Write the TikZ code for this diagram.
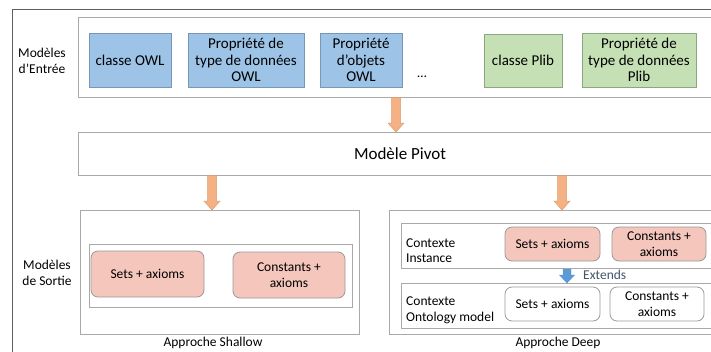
\documentclass[tikz,border=0pt]{standalone}
\usepackage{fontspec}
\setmainfont{Carlito}
\usetikzlibrary{calc}

\definecolor{framedark}{HTML}{5E5E5E}
\definecolor{framelight}{HTML}{A9A9A9}
\definecolor{owlfill}{HTML}{9DC3E6}
\definecolor{owlline}{HTML}{7896B5}
\definecolor{plibfill}{HTML}{C5E0B4}
\definecolor{plibline}{HTML}{8BA77D}
\definecolor{setfill}{HTML}{F4C6BC}
\definecolor{setline}{HTML}{9A9A9A}
\definecolor{arrowfill}{HTML}{F4B183}
\definecolor{arrowline}{HTML}{DE9C6C}
\definecolor{extfill}{HTML}{5B9BD5}
\definecolor{exttext}{HTML}{44546A}

% vertical block arrow: #1 start, #2 tip, #3 half shaft, #4 half head, #5 head length, #6 style
\newcommand{\vblockarrow}[6]{%
  \path[#6] let \p1=(#1), \p2=(#2) in
    (\x1-#3,\y1) -- (\x1+#3,\y1) -- (\x1+#3,\y2+#5) -- (\x1+#4,\y2+#5)
    -- (\x1,\y2) -- (\x1-#4,\y2+#5) -- (\x1-#3,\y2+#5) -- cycle;}

\tikzset{
  txt/.style={font=\fontsize{13.5}{15.5}\selectfont, align=center, inner sep=0pt},
  bigtxt/.style={font=\fontsize{15}{16.5}\selectfont, align=center, inner sep=0pt},
  frame/.style={draw=framelight, line width=0.9pt, fill=white},
  owlbox/.style={draw=owlline, fill=owlfill, line width=0.8pt, bigtxt},
  plibbox/.style={draw=plibline, fill=plibfill, line width=0.8pt, bigtxt},
  setbox/.style={draw=setline, fill=setfill, line width=0.8pt, rounded corners=7pt, txt},
  plainset/.style={draw=setline, fill=white, line width=0.8pt, rounded corners=7pt, txt},
  orangearrow/.style={fill=arrowfill, draw=arrowline, line width=0.5pt},
  bluearrow/.style={fill=extfill, draw=extfill, line width=0.4pt},
  lbl/.style={txt, align=left, anchor=west},
}

\begin{document}
\begin{tikzpicture}[x=1pt, y=-1pt]
\clip (0,0) rectangle (711,351);
\fill[white] (0,0) rectangle (711,351);

% outer frame
\draw[framedark, line width=0.9pt] (12,360) -- (12,9) -- (720,9);

% input models
\draw[frame] (78,17) rectangle (720,97);
\node[txt] (inlbl) at (42,61) {Modèles\\d’Entrée};
\node[owlbox, minimum width=82pt, minimum height=54pt] (cowl) at (130,60) {classe OWL};
\node[owlbox, minimum width=116pt, minimum height=54pt] (dpowl) at (246,60) {Propriété de\\type de données\\OWL};
\node[owlbox, minimum width=82pt, minimum height=54pt] (opowl) at (361,60) {Propriété\\d’objets\\OWL};
\node[txt] (dots) at (422,77) {…};
\node[plibbox, minimum width=78pt, minimum height=53pt] (cplib) at (523,60.5) {classe Plib};
\node[plibbox, minimum width=114pt, minimum height=54pt] (dpplib) at (639,60) {Propriété de\\type de données\\Plib};

% pivot model
\draw[frame] (78,132) rectangle (720,175);
\node[txt, font=\fontsize{17}{20}\selectfont] (pivot) at (400,154) {Modèle Pivot};

% output models: shallow approach
\node[txt] (outlbl) at (47,273) {Modèles\\de Sortie};
\draw[frame] (80,210) rectangle (359,334);
\draw[frame] (89,244) rectangle (352,307);
\node[setbox, minimum width=113pt, minimum height=46pt] (shset) at (147.5,274) {Sets + axioms};
\node[setbox, minimum width=112pt, minimum height=46pt] (shcst) at (289,275) {Constants +\\axioms};
\node[txt] (shallow) at (213,343) {Approche Shallow};

% output models: deep approach
\draw[frame] (389,210) rectangle (720,334);
\draw[frame] (401,223) rectangle (720,268);
\draw[frame] (401,283) rectangle (720,328);
\node[lbl] (ctxinst) at (406,250.5) {Contexte\\Instance};
\node[lbl] (ctxonto) at (406,310.5) {Contexte\\Ontology model};
\node[setbox, minimum width=95pt, minimum height=34pt] (inset) at (552.5,244) {Sets + axioms};
\node[setbox, minimum width=94pt, minimum height=34pt] (incst) at (659,244) {Constants +\\axioms};
\node[plainset, minimum width=95pt, minimum height=34pt] (onset) at (552.5,304) {Sets + axioms};
\node[plainset, minimum width=94pt, minimum height=34pt] (oncst) at (657,304) {Constants +\\axioms};
\node[txt] (deep) at (558,343) {Approche Deep};

% block arrows
\coordinate (a1s) at (396,97.5);   \coordinate (a1t) at (396,132);
\coordinate (a2s) at (212,175.5);  \coordinate (a2t) at (212,210);
\coordinate (a3s) at (562,175.5);  \coordinate (a3t) at (562,210);
\coordinate (a4s) at (567,269);    \coordinate (a4t) at (567,283);
\vblockarrow{a1s}{a1t}{4.5pt}{8pt}{9pt}{orangearrow}
\vblockarrow{a2s}{a2t}{4.5pt}{8pt}{9pt}{orangearrow}
\vblockarrow{a3s}{a3t}{4.5pt}{8pt}{9pt}{orangearrow}
\vblockarrow{a4s}{a4t}{4pt}{7.5pt}{8pt}{bluearrow}
\node[txt, anchor=west, text=exttext] (ext) at (583,275) {Extends};
\end{tikzpicture}
\end{document}
